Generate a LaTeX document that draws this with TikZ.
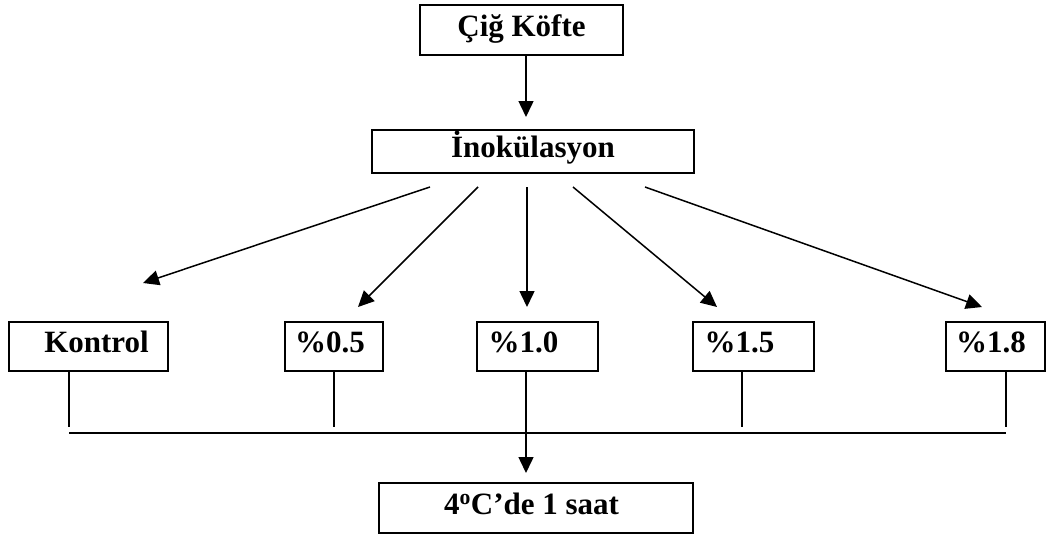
\documentclass[tikz,border=0pt]{standalone}
\usepackage{fontspec}
\setmainfont{Liberation Serif}
\usetikzlibrary{arrows.meta}
\tikzset{
  box/.style={draw, line width=2pt, inner sep=0pt, text height=21pt, text depth=9pt,
    font=\fontsize{31}{36}\selectfont\bfseries},
  conn/.style={line width=1.5pt},
  arr/.style={conn, -{Triangle[length=16pt,width=15pt]}},
}
\begin{document}
\begin{tikzpicture}[x=1pt,y=-1pt]
\useasboundingbox (0,0) rectangle (1047,536);
% boxes
\node[box, minimum width=203pt, minimum height=50pt] (cig) at (521.5,30) {Çiğ Köfte};
\node[box, minimum width=322pt, minimum height=43pt] (ino) at (533,151.5) {İnokülasyon};
\node[box, minimum width=159pt, minimum height=49pt] (kon) at (88.5,346.5) {\hspace*{16pt}Kontrol};
\node[box, minimum width=98pt, minimum height=49pt] (p05) at (334,346.5) {\%0.5\hspace*{8pt}};
\node[box, minimum width=121pt, minimum height=49pt] (p10) at (537.5,346.5) {\%1.0\hspace*{28pt}};
\node[box, minimum width=121pt, minimum height=49pt] (p15) at (753.5,346.5) {\%1.5\hspace*{28pt}};
\node[box, minimum width=99pt, minimum height=49pt] (p18) at (995.5,346.5) {\%1.8\hspace*{9pt}};
\node[box, minimum width=314pt, minimum height=50pt] (bot) at (535.5,508) {4\textsuperscript{o}C’de 1 saat\hspace*{8pt}};
% arrow endpoints
\coordinate (s1) at (430,187);
\coordinate (s2) at (478,187);
\coordinate (s3) at (527,187);
\coordinate (s4) at (573,187);
\coordinate (s5) at (645,187);
\coordinate (e1) at (143,283);
\coordinate (e2) at (358,307);
\coordinate (e3) at (527,307);
\coordinate (e4) at (717,307);
\coordinate (e5) at (982,307);
\coordinate (hl) at (69,433);
\coordinate (hr) at (1006,433);
% connectors
\draw[arr, shorten >=12pt] ([xshift=4.5pt]cig.south) -- ([xshift=4.5pt]cig.south |- ino.north);
\draw[arr] (s1) -- (e1);
\draw[arr] (s2) -- (e2);
\draw[arr] (s3) -- (e3);
\draw[arr] (s4) -- (e4);
\draw[arr] (s5) -- (e5);
\draw[conn] (kon.south -| hl) -- ([yshift=6pt]hl);
\draw[conn] (p05.south) -- (p05.south |- 0,427);
\draw[conn] ([xshift=-11.5pt]p15.south) -- ([xshift=-11.5pt]p15.south |- 0,427);
\draw[conn] (p18.south -| hr) -- ([yshift=6pt]hr);
\draw[conn] (hl) -- (hr);
\draw[arr, shorten >=9pt] ([xshift=-11.5pt]p10.south) -- ([xshift=-11.5pt]p10.south |- bot.north);
\end{tikzpicture}
\end{document}
